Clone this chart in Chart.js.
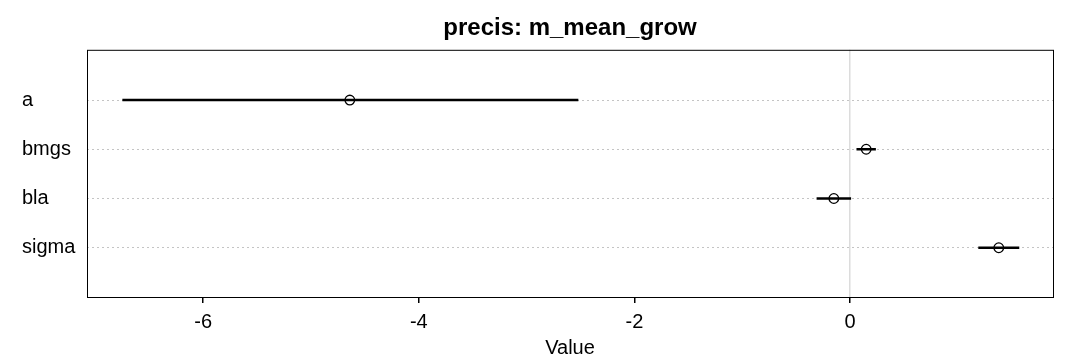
<!DOCTYPE html>
<html>
<head>
<meta charset="utf-8">
<script src="https://cdn.jsdelivr.net/npm/chart.js@4/dist/chart.umd.min.js"></script>
<style>
  body { margin: 0; background: #fff; }
  #wrap { width: 1080px; height: 360px; }
</style>
</head>
<body>
<div id="wrap"><canvas id="precis-chart"></canvas></div>
<script>
// parameter names and their summaries
const rowLabels = ["a", "bmgs", "bla", "sigma"];
const meanVals = [-4.64, 0.15, -0.15, 1.38];
const lowerVals = [-6.75, 0.06, -0.31, 1.19];
const upperVals = [-2.52, 0.24, 0.01, 1.57];
const xTicks = [-6, -4, -2, 0];

const FONT = "'Liberation Sans', Arial, sans-serif";

// intervals: one short line per row
const intervalSets = rowLabels.map((lab, i) => ({
    type: "line",
    label: lab,
    data: [{x: lowerVals[i], y: i + 1}, {x: upperVals[i], y: i + 1}],
    borderColor: "#000",
    borderWidth: 2.6,
    pointRadius: 0,
    fill: false
}));

const meanSet = {
    type: "scatter",
    label: "mean",
    data: rowLabels.map((lab, i) => ({x: meanVals[i], y: i + 1})),
    pointStyle: "circle",
    pointRadius: 4.8,
    borderColor: "#000",
    borderWidth: 1.3,
    backgroundColor: "rgba(0,0,0,0)"
};

// box around the plot + title centred over the plot region
const framePlugin = {
    id: "frame",
    afterLayout(chart) {
        if (chart.titleBlock) {
            chart.titleBlock.left = chart.chartArea.left;
            chart.titleBlock.right = chart.chartArea.right;
        }
    },
    afterDraw(chart) {
        const {ctx, chartArea: a} = chart;
        ctx.save();
        ctx.strokeStyle = "#000";
        ctx.lineWidth = 1;
        ctx.strokeRect(a.left + 0.5, a.top + 0.5, a.right - a.left, a.bottom - a.top);
        ctx.restore();
    }
};

const ctx = document.getElementById("precis-chart").getContext("2d");
new Chart(ctx, {
    type: "scatter",
    data: { datasets: [...intervalSets, meanSet] },
    options: {
        responsive: true,
        maintainAspectRatio: false,
        animation: false,
        layout: { padding: { left: 22, right: 27, top: 0, bottom: 0 } },
        plugins: {
            legend: { display: false },
            tooltip: { enabled: false },
            title: {
                display: true,
                text: "precis: m_mean_grow",
                color: "#000",
                font: { family: FONT, size: 24, weight: "bold" },
                padding: { top: 14, bottom: 7 }
            }
        },
        scales: {
            x: {
                type: "linear",
                min: -7.078,
                max: 1.883,
                afterBuildTicks: s => { s.ticks = xTicks.map(v => ({value: v})); },
                afterFit: s => { s.height = 63; },
                border: { display: false },
                grid: {
                    drawOnChartArea: true,
                    drawTicks: true,
                    tickLength: 6,
                    tickColor: "#000",
                    lineWidth: 1.5,
                    color: c => (c.tick && c.tick.value === 0) ? "#dcdcdc" : "rgba(0,0,0,0)"
                },
                ticks: {
                    color: "#000",
                    padding: 7,
                    font: { family: FONT, size: 20 },
                    callback: v => String(v)
                },
                title: {
                    display: true,
                    text: "Value",
                    color: "#000",
                    padding: { top: 0, bottom: 0 },
                    font: { family: FONT, size: 20 }
                }
            },
            y: {
                type: "linear",
                min: -0.02,
                max: 5,
                reverse: true,
                afterBuildTicks: s => { s.ticks = rowLabels.map((l, i) => ({value: i + 1})); },
                afterFit: s => { s.width = 65; },
                border: { display: false, dash: [2, 3] },
                grid: {
                    drawTicks: false,
                    color: "#c4c4c4",
                    lineWidth: 1
                },
                ticks: {
                    crossAlign: "far",
                    color: "#000",
                    font: { family: FONT, size: 20 },
                    callback: v => rowLabels[v - 1]
                }
            }
        }
    },
    plugins: [framePlugin]
});
</script>
</body>
</html>
